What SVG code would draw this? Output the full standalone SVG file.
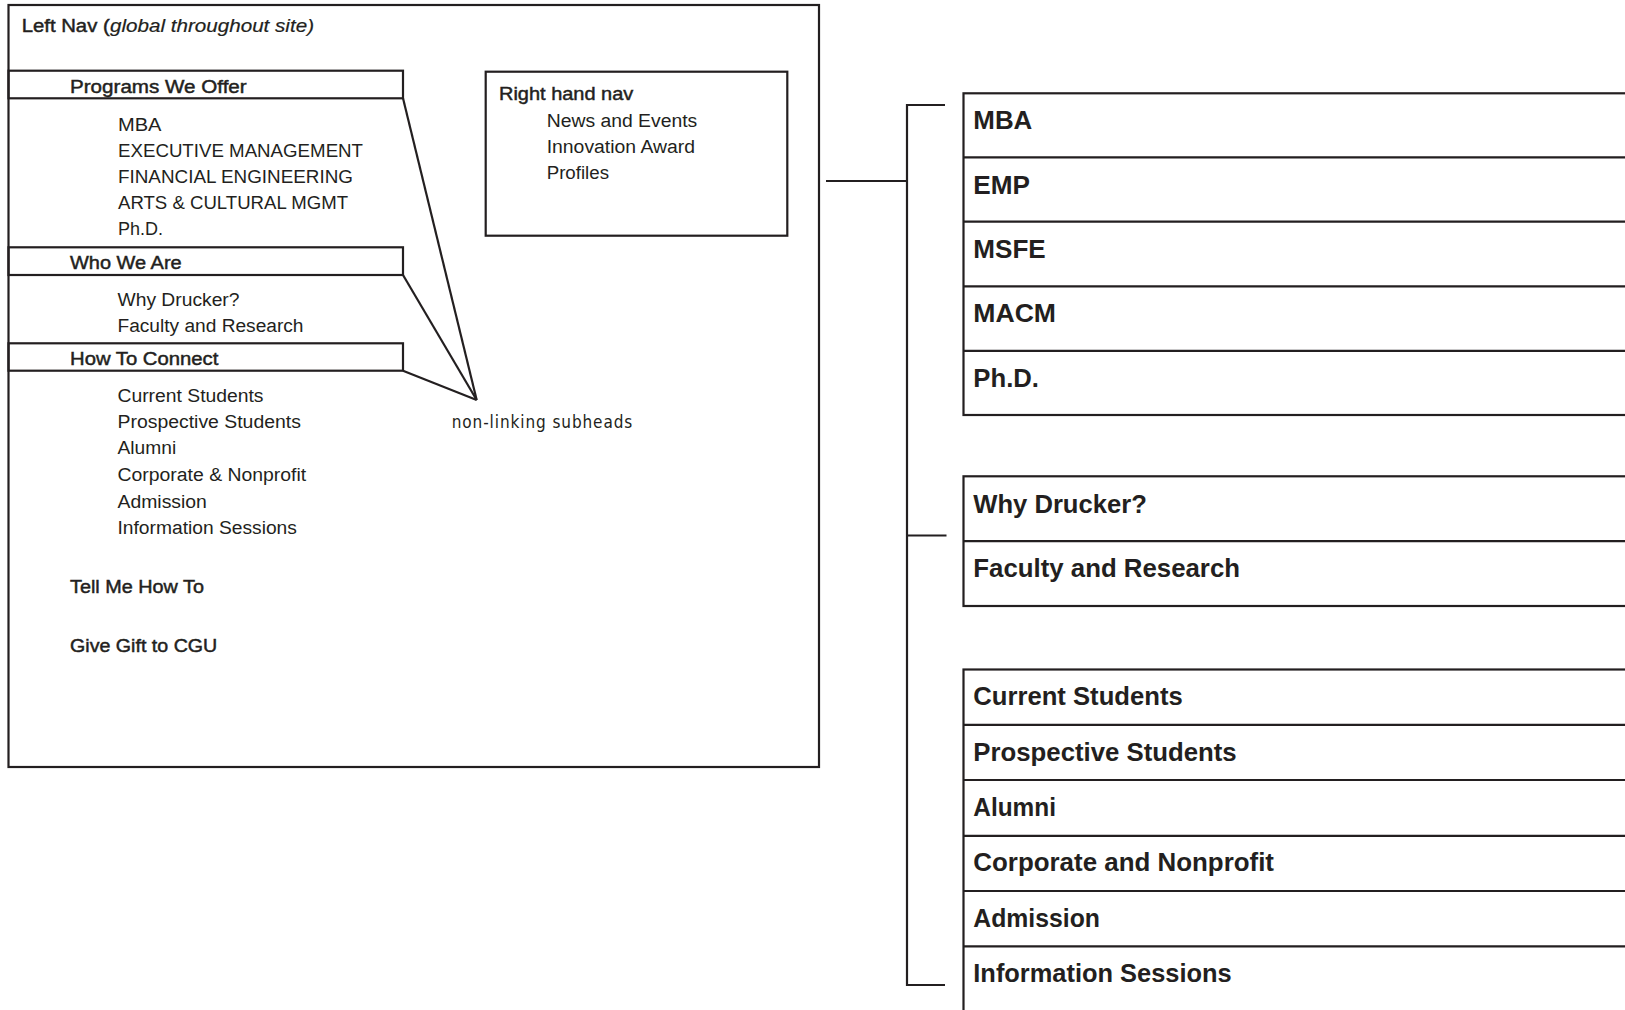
<svg xmlns="http://www.w3.org/2000/svg" width="1625" height="1010" viewBox="0 0 1625 1010">
<style>
  .box { fill: none; stroke: #231f20; stroke-width: 2.2; }
  .ln { fill: none; stroke: #231f20; stroke-width: 2.2; }
  .t { font-family: "Liberation Sans", Arial, sans-serif; font-size: 18px; fill: #231f20; }
  .h { font-family: "Liberation Sans", Arial, sans-serif; font-size: 18px; fill: #231f20; stroke: #231f20; stroke-width: 0.45; }
  .it { font-style: italic; }
  .note { font-family: "Liberation Sans Narrow", "DejaVu Sans", sans-serif; font-stretch: condensed; font-size: 17px; fill: #231f20; }
  .r { font-family: "Liberation Sans", Arial, sans-serif; font-size: 26px; font-weight: bold; fill: #231f20; }
</style>
<rect width="1625" height="1010" fill="#ffffff"/>

<g id="left-nav">
  <rect class="box" x="8.5" y="5" width="810.5" height="762"/>
  <text class="h" x="21.7" y="31.7" textLength="88" lengthAdjust="spacingAndGlyphs">Left Nav (</text>
  <text class="t it" x="110" y="31.7" textLength="204" lengthAdjust="spacingAndGlyphs" stroke="#231f20" stroke-width="0.2">global throughout site)</text>
</g>

<g id="programs-header">
  <rect class="box" x="8.5" y="70.7" width="394.5" height="27.6"/>
  <text class="h" x="70" y="93.3" textLength="176.7" lengthAdjust="spacingAndGlyphs">Programs  We Offer</text>
</g>
<g id="programs-items">
  <text class="t" x="118" y="131" textLength="43.5" lengthAdjust="spacingAndGlyphs">MBA</text>
  <text class="t" x="118" y="157.3" textLength="245" lengthAdjust="spacingAndGlyphs">EXECUTIVE MANAGEMENT</text>
  <text class="t" x="118" y="183.3" textLength="235" lengthAdjust="spacingAndGlyphs">FINANCIAL ENGINEERING</text>
  <text class="t" x="118" y="209.3" textLength="230" lengthAdjust="spacingAndGlyphs">ARTS &amp; CULTURAL MGMT</text>
  <text class="t" x="118" y="235.3" textLength="45" lengthAdjust="spacingAndGlyphs">Ph.D.</text>
</g>

<g id="who-header">
  <rect class="box" x="8.5" y="247.3" width="394.5" height="27.7"/>
  <text class="h" x="70" y="269" textLength="111.7" lengthAdjust="spacingAndGlyphs">Who We Are</text>
</g>
<g id="who-items">
  <text class="t" x="117.5" y="305.7" textLength="122" lengthAdjust="spacingAndGlyphs">Why Drucker?</text>
  <text class="t" x="117.5" y="332" textLength="186" lengthAdjust="spacingAndGlyphs">Faculty and Research</text>
</g>

<g id="connect-header">
  <rect class="box" x="8.5" y="343.3" width="394.5" height="27.4"/>
  <text class="h" x="70" y="365" textLength="148.3" lengthAdjust="spacingAndGlyphs">How To Connect</text>
</g>
<g id="connect-items">
  <text class="t" x="117.5" y="401.7" textLength="146" lengthAdjust="spacingAndGlyphs">Current Students</text>
  <text class="t" x="117.5" y="428" textLength="183.4" lengthAdjust="spacingAndGlyphs">Prospective Students</text>
  <text class="t" x="117.5" y="454.3" textLength="58.7" lengthAdjust="spacingAndGlyphs">Alumni</text>
  <text class="t" x="117.5" y="481" textLength="188.7" lengthAdjust="spacingAndGlyphs">Corporate &amp; Nonprofit</text>
  <text class="t" x="117.5" y="507.5" textLength="89.4" lengthAdjust="spacingAndGlyphs">Admission</text>
  <text class="t" x="117.5" y="534" textLength="179.4" lengthAdjust="spacingAndGlyphs">Information Sessions</text>
</g>

<g id="tell-me">
  <text class="h" x="70" y="593.3" textLength="134" lengthAdjust="spacingAndGlyphs">Tell Me How To</text>
</g>
<g id="give-gift">
  <text class="h" x="70" y="651.7" textLength="147.3" lengthAdjust="spacingAndGlyphs">Give Gift to CGU</text>
</g>

<g id="right-hand-nav">
  <rect class="box" x="485.7" y="71.7" width="301.6" height="164"/>
  <text class="h" x="499" y="100" textLength="134.3" lengthAdjust="spacingAndGlyphs">Right hand nav</text>
  <text class="t" x="546.7" y="126.7" textLength="150.6" lengthAdjust="spacingAndGlyphs">News and Events</text>
  <text class="t" x="546.7" y="153.3" textLength="148.3" lengthAdjust="spacingAndGlyphs">Innovation Award</text>
  <text class="t" x="546.7" y="179.3" textLength="62.3" lengthAdjust="spacingAndGlyphs">Profiles</text>
</g>

<g id="note">
  <text class="note" x="451.7" y="428" textLength="180.6" lengthAdjust="spacing">non-linking subheads</text>
</g>

<g id="programs-pages">
  <rect class="box" x="963.5" y="93.3" width="700" height="321.7"/>
  <line class="ln" x1="963.5" y1="157.3" x2="1640" y2="157.3"/>
  <line class="ln" x1="963.5" y1="221.7" x2="1640" y2="221.7"/>
  <line class="ln" x1="963.5" y1="286.3" x2="1640" y2="286.3"/>
  <line class="ln" x1="963.5" y1="350.8" x2="1640" y2="350.8"/>
  <text class="r" x="973.3" y="129.3" textLength="59" lengthAdjust="spacingAndGlyphs">MBA</text>
  <text class="r" x="973.3" y="193.5" textLength="56.7" lengthAdjust="spacingAndGlyphs">EMP</text>
  <text class="r" x="973.3" y="257.8" textLength="72.4" lengthAdjust="spacingAndGlyphs">MSFE</text>
  <text class="r" x="973.3" y="322.2" textLength="82.7" lengthAdjust="spacingAndGlyphs">MACM</text>
  <text class="r" x="973.3" y="386.6" textLength="65.7" lengthAdjust="spacingAndGlyphs">Ph.D.</text>
</g>

<g id="who-pages">
  <rect class="box" x="963.5" y="476.3" width="700" height="129.7"/>
  <line class="ln" x1="963.5" y1="541.1" x2="1640" y2="541.1"/>
  <text class="r" x="973.3" y="512.5" textLength="173.5" lengthAdjust="spacingAndGlyphs">Why Drucker?</text>
  <text class="r" x="973.3" y="577" textLength="266.7" lengthAdjust="spacingAndGlyphs">Faculty and Research</text>
</g>

<g id="connect-pages">
  <rect class="box" x="963.5" y="669.5" width="700" height="360"/>
  <line class="ln" x1="963.5" y1="724.8" x2="1640" y2="724.8"/>
  <line class="ln" x1="963.5" y1="780" x2="1640" y2="780"/>
  <line class="ln" x1="963.5" y1="835.8" x2="1640" y2="835.8"/>
  <line class="ln" x1="963.5" y1="891" x2="1640" y2="891"/>
  <line class="ln" x1="963.5" y1="946.3" x2="1640" y2="946.3"/>
  <text class="r" x="973.3" y="704.8" textLength="209.4" lengthAdjust="spacingAndGlyphs">Current Students</text>
  <text class="r" x="973.3" y="760.5" textLength="263.4" lengthAdjust="spacingAndGlyphs">Prospective Students</text>
  <text class="r" x="973.3" y="816" textLength="82.7" lengthAdjust="spacingAndGlyphs">Alumni</text>
  <text class="r" x="973.3" y="871.4" textLength="300.7" lengthAdjust="spacingAndGlyphs">Corporate and Nonprofit</text>
  <text class="r" x="973.3" y="926.8" textLength="126.7" lengthAdjust="spacingAndGlyphs">Admission</text>
  <text class="r" x="973.3" y="982" textLength="258.4" lengthAdjust="spacingAndGlyphs">Information Sessions</text>
</g>

<g id="connectors">
  <line class="ln" x1="403" y1="98.3" x2="476.7" y2="400"/>
  <line class="ln" x1="403" y1="275" x2="476.7" y2="400"/>
  <line class="ln" x1="403" y1="370.7" x2="476.7" y2="400"/>
  <line class="ln" x1="826" y1="181" x2="907" y2="181"/>
  <polyline class="ln" points="945,105 907,105 907,985 945,985"/>
  <line class="ln" x1="907" y1="535.5" x2="946.5" y2="535.5"/>
</g>
</svg>
